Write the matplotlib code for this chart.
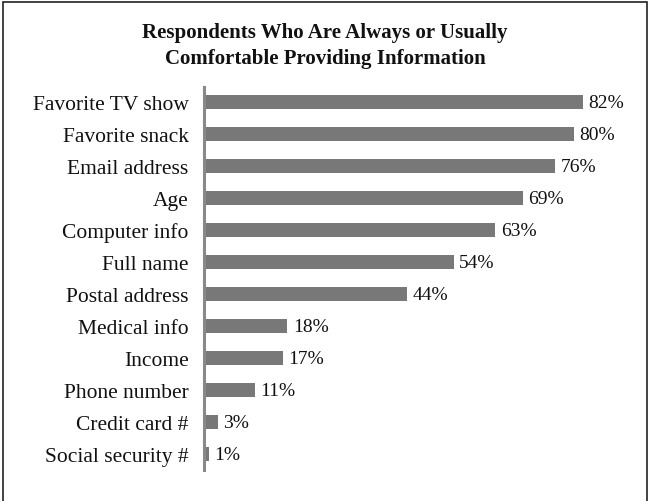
import matplotlib
matplotlib.use("Agg")
import matplotlib.pyplot as plt
from matplotlib.patches import Rectangle

categories = ["Favorite TV show", "Favorite snack", "Email address", "Age",
              "Computer info", "Full name", "Postal address", "Medical info",
              "Income", "Phone number", "Credit card #", "Social security #"]
values = [82, 80, 76, 69, 63, 54, 44, 18, 17, 11, 3, 1]
title = "Respondents Who Are Always or Usually\nComfortable Providing Information"

plt.rcParams['font.family'] = ['Liberation Serif', 'DejaVu Serif']

W, H = 650, 502
fig = plt.figure(figsize=(W / 100, H / 100), dpi=100)

# axes placement in pixels
left_px, right_px = 204, 620
top_px, bot_px = 88, 471
ax = fig.add_axes([left_px / W, 1 - bot_px / H, (right_px - left_px) / W, (bot_px - top_px) / H])

y = list(range(len(categories)))
ax.barh(y, values, height=0.41, color="#787878", left=0)
ax.set_ylim(len(categories) - 0.5 + 0.0, -0.47)
ax.set_xlim(0, 90)
for yi, v in zip(y, values):
    ax.text(v + 1.2, yi, f"{v}%", va="center", ha="left", fontsize=14, color="#111111")

ax.set_yticks(y)
ax.set_yticklabels(categories, fontsize=15.5, color="#111111")
ax.tick_params(axis="y", length=0, pad=11)
ax.set_xticks([])
for s in ["top", "right", "bottom"]:
    ax.spines[s].set_visible(False)
ax.spines["left"].set_color("#888888")
ax.spines["left"].set_linewidth(2.2)

fig.text(0.5, 1 - 46 / H, title, ha="center", va="center", fontsize=15,
         fontweight="bold", linespacing=1.45, color="#111111")

# outer frame
fig.patches.append(Rectangle((3 / W, -0.01), (W - 6) / W, 1 - 2.5 / H + 0.01,
                             transform=fig.transFigure, fill=False,
                             edgecolor="#222222", linewidth=1.2))

fig.savefig("out.png", dpi=100)
